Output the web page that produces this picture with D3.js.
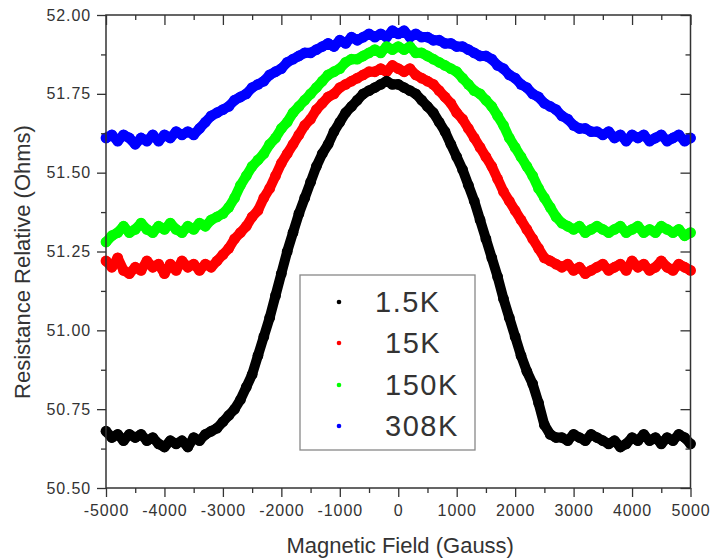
<!DOCTYPE html>
<html>
<head>
<meta charset="utf-8">
<script src="https://cdn.jsdelivr.net/npm/d3@7"></script>
<style>
  html, body { margin: 0; padding: 0; background: #fff; }
  svg { display: block; }
  text { font-family: "Liberation Sans", Arial, sans-serif; fill: #333; }
</style>
</head>
<body>
<svg id="chart" width="712" height="558"></svg>
<script>
// Magnetic field sweep (Gauss)
const field = [
  -5000,-4900,-4800,-4700,-4600,-4500,-4400,-4300,-4200,-4100,
  -4000,-3900,-3800,-3700,-3600,-3500,-3400,-3300,-3200,-3100,
  -3000,-2900,-2800,-2700,-2600,-2500,-2400,-2300,-2200,-2100,
  -2000,-1900,-1800,-1700,-1600,-1500,-1400,-1300,-1200,-1100,
  -1000,-900,-800,-700,-600,-500,-400,-300,-200,-100,
  0,100,200,300,400,500,600,700,800,900,
  1000,1100,1200,1300,1400,1500,1600,1700,1800,1900,
  2000,2100,2200,2300,2400,2500,2600,2700,2800,2900,
  3000,3100,3200,3300,3400,3500,3600,3700,3800,3900,
  4000,4100,4200,4300,4400,4500,4600,4700,4800,4900,
  5000
];

// Resistance (Ohms) at each field value, one array per temperature
const r1_5K = [
  50.68,50.66,50.67,50.65,50.67,50.66,50.67,50.65,50.66,50.64,
  50.63,50.65,50.64,50.65,50.63,50.66,50.65,50.67,50.68,50.69,
  50.71,50.73,50.75,50.78,50.82,50.86,50.92,50.98,51.04,51.11,
  51.18,51.25,51.31,51.37,51.42,51.47,51.52,51.56,51.59,51.63,
  51.66,51.69,51.71,51.73,51.75,51.76,51.77,51.78,51.79,51.78,
  51.78,51.77,51.76,51.75,51.73,51.71,51.69,51.66,51.63,51.59,
  51.55,51.51,51.46,51.41,51.35,51.29,51.23,51.17,51.10,51.04,
  50.98,50.92,50.87,50.83,50.77,50.70,50.67,50.66,50.66,50.65,
  50.67,50.66,50.65,50.67,50.66,50.65,50.64,50.65,50.63,50.64,
  50.66,50.65,50.67,50.65,50.66,50.64,50.66,50.65,50.67,50.66,
  50.64
];
const r15K = [
  51.22,51.20,51.23,51.19,51.18,51.20,51.19,51.22,51.20,51.21,
  51.18,51.21,51.19,51.22,51.20,51.21,51.19,51.21,51.20,51.22,
  51.24,51.26,51.29,51.31,51.33,51.36,51.38,51.42,51.45,51.49,
  51.53,51.56,51.59,51.62,51.65,51.67,51.70,51.72,51.74,51.75,
  51.77,51.78,51.79,51.80,51.81,51.82,51.82,51.83,51.82,51.84,
  51.83,51.82,51.83,51.81,51.80,51.79,51.78,51.76,51.74,51.72,
  51.69,51.67,51.64,51.61,51.58,51.55,51.52,51.48,51.44,51.41,
  51.38,51.35,51.32,51.29,51.26,51.23,51.22,51.21,51.20,51.21,
  51.19,51.20,51.18,51.19,51.20,51.21,51.19,51.20,51.21,51.19,
  51.22,51.20,51.21,51.19,51.20,51.22,51.20,51.19,51.21,51.20,
  51.19
];
const r150K = [
  51.28,51.30,51.31,51.33,51.31,51.32,51.34,51.32,51.31,51.33,
  51.32,51.34,51.32,51.31,51.33,51.32,51.34,51.33,51.35,51.36,
  51.37,51.39,51.42,51.46,51.49,51.52,51.54,51.56,51.59,51.61,
  51.64,51.66,51.69,51.71,51.73,51.75,51.77,51.79,51.81,51.82,
  51.83,51.85,51.86,51.86,51.87,51.88,51.89,51.88,51.90,51.89,
  51.90,51.89,51.90,51.88,51.88,51.87,51.86,51.85,51.84,51.83,
  51.82,51.80,51.78,51.76,51.75,51.73,51.71,51.68,51.65,51.61,
  51.58,51.55,51.52,51.49,51.45,51.42,51.39,51.36,51.34,51.33,
  51.32,51.33,51.31,51.32,51.33,51.32,51.31,51.32,51.33,51.31,
  51.32,51.33,51.31,51.32,51.31,51.33,51.32,51.31,51.32,51.30,
  51.31
];
const r308K = [
  51.61,51.62,51.60,51.62,51.61,51.59,51.61,51.60,51.62,51.60,
  51.62,51.61,51.63,51.62,51.63,51.62,51.64,51.66,51.68,51.69,
  51.70,51.71,51.73,51.74,51.75,51.77,51.78,51.79,51.81,51.82,
  51.83,51.85,51.86,51.87,51.88,51.88,51.89,51.90,51.91,51.90,
  51.92,51.91,51.93,51.92,51.93,51.94,51.93,51.94,51.93,51.95,
  51.94,51.95,51.93,51.94,51.93,51.93,51.92,51.92,51.91,51.91,
  51.90,51.90,51.89,51.88,51.87,51.87,51.86,51.84,51.83,51.81,
  51.80,51.78,51.77,51.75,51.74,51.72,51.71,51.70,51.68,51.67,
  51.65,51.64,51.64,51.63,51.63,51.62,51.63,51.61,51.62,51.60,
  51.62,51.61,51.62,51.60,51.61,51.62,51.60,51.61,51.62,51.60,
  51.61
];

const seriesLabels = ["1.5K", "15K", "150K", "308K"];
const seriesValues = [r1_5K, r15K, r150K, r308K];
const seriesColors = ["#000000", "#ff0000", "#00ff00", "#0000ff"];

const xTickValues = [-5000,-4000,-3000,-2000,-1000,0,1000,2000,3000,4000,5000];
const xMinorValues = [-4500,-3500,-2500,-1500,-500,500,1500,2500,3500,4500];
const yTickValues = [50.50,50.75,51.00,51.25,51.50,51.75,52.00];
const yMinorValues = [50.625,50.875,51.125,51.375,51.625,51.875];

const xTitle = "Magnetic Field (Gauss)";
const yTitle = "Resistance Relative (Ohms)";

// ---- layout ----
const svg = d3.select("#chart");
const plot = { left: 106, right: 690.5, top: 15, bottom: 488 };

const x = d3.scaleLinear().domain([-5000, 5000]).range([plot.left, plot.right]);
const y = d3.scaleLinear().domain([50.5, 52.0]).range([plot.bottom, plot.top]);

svg.append("rect").attr("width", 712).attr("height", 558).attr("fill", "#fff");

// data bands: drawn from warmest to coldest so the colder curves sit on top
const line = d3.line()
  .x((d, i) => x(field[i]))
  .y(d => y(d))
  .curve(d3.curveLinear);

const order = [3, 2, 1, 0];
const dataG = svg.append("g");
order.forEach(k => {
  const g = dataG.append("g");
  g.append("path")
    .datum(seriesValues[k])
    .attr("d", line)
    .attr("fill", "none")
    .attr("stroke", seriesColors[k])
    .attr("stroke-width", 10)
    .attr("stroke-linejoin", "round")
    .attr("stroke-linecap", "round");
  g.selectAll("circle")
    .data(seriesValues[k])
    .join("circle")
    .attr("cx", (d, i) => x(field[i]))
    .attr("cy", d => y(d))
    .attr("r", 5.4)
    .attr("fill", seriesColors[k]);
});

// ---- axes ----
const axisColor = "#333";
function styleAxis(g) {
  g.select(".domain").remove();
  g.selectAll(".tick line").attr("stroke", axisColor).attr("stroke-width", 1.3);
  g.selectAll(".tick text")
    .style("font-family", '"Liberation Sans", Arial, sans-serif')
    .style("font-size", "16px")
    .style("letter-spacing", "0.9px")
    .attr("fill", "#3a3a3a");
}

// bottom: labelled major ticks, outward
svg.append("g")
  .attr("transform", `translate(0,${plot.bottom})`)
  .call(d3.axisBottom(x).tickValues(xTickValues).tickSize(9).tickPadding(8)
        .tickFormat(d => String(d)))
  .call(styleAxis);
svg.append("g")
  .attr("transform", `translate(0,${plot.bottom})`)
  .call(d3.axisBottom(x).tickValues(xMinorValues).tickSize(5).tickFormat(""))
  .call(styleAxis);

// left: labelled major ticks, outward
svg.append("g")
  .attr("transform", `translate(${plot.left},0)`)
  .call(d3.axisLeft(y).tickValues(yTickValues).tickSize(9).tickPadding(6)
        .tickFormat(d => d.toFixed(2)))
  .call(styleAxis);
svg.append("g")
  .attr("transform", `translate(${plot.left},0)`)
  .call(d3.axisLeft(y).tickValues(yMinorValues).tickSize(5).tickFormat(""))
  .call(styleAxis);

// top and right: unlabelled, ticks pointing inward
svg.append("g")
  .attr("transform", `translate(0,${plot.top})`)
  .call(d3.axisTop(x).tickValues(xTickValues).tickSize(-10).tickFormat(""))
  .call(styleAxis);
svg.append("g")
  .attr("transform", `translate(0,${plot.top})`)
  .call(d3.axisTop(x).tickValues(xMinorValues).tickSize(-5).tickFormat(""))
  .call(styleAxis);
svg.append("g")
  .attr("transform", `translate(${plot.right},0)`)
  .call(d3.axisRight(y).tickValues(yTickValues).tickSize(-10).tickFormat(""))
  .call(styleAxis);
svg.append("g")
  .attr("transform", `translate(${plot.right},0)`)
  .call(d3.axisRight(y).tickValues(yMinorValues).tickSize(-5).tickFormat(""))
  .call(styleAxis);

// frame
svg.append("rect")
  .attr("x", plot.left).attr("y", plot.top)
  .attr("width", plot.right - plot.left).attr("height", plot.bottom - plot.top)
  .attr("fill", "none").attr("stroke", axisColor).attr("stroke-width", 1.5);

// axis titles
svg.append("text")
  .attr("x", (plot.left + plot.right) / 2 + 2)
  .attr("y", 553)
  .attr("text-anchor", "middle")
  .style("font-size", "22px")
  .attr("fill", "#3a3a3a")
  .text(xTitle);

svg.append("text")
  .attr("transform", "translate(30,262) rotate(-90)")
  .attr("text-anchor", "middle")
  .style("font-size", "22px")
  .attr("fill", "#3a3a3a")
  .text(yTitle);

// ---- legend ----
const legend = svg.append("g").attr("transform", "translate(300,275)");
legend.append("rect")
  .attr("width", 175).attr("height", 175)
  .attr("fill", "#fff").attr("stroke", "#888").attr("stroke-width", 1.3);

const legendRowY = [27, 68, 110, 151];
const legendTextDx = [0, 10, 10, 10];
seriesLabels.forEach((lab, i) => {
  legend.append("circle")
    .attr("cx", 39).attr("cy", legendRowY[i])
    .attr("r", 2.3).attr("fill", seriesColors[i]);
  legend.append("text")
    .attr("x", 75 + legendTextDx[i])
    .attr("y", legendRowY[i])
    .attr("dy", "0.36em")
    .style("font-size", "29px")
    .style("letter-spacing", "1.5px")
    .attr("fill", "#222")
    .text(lab);
});
</script>
</body>
</html>
